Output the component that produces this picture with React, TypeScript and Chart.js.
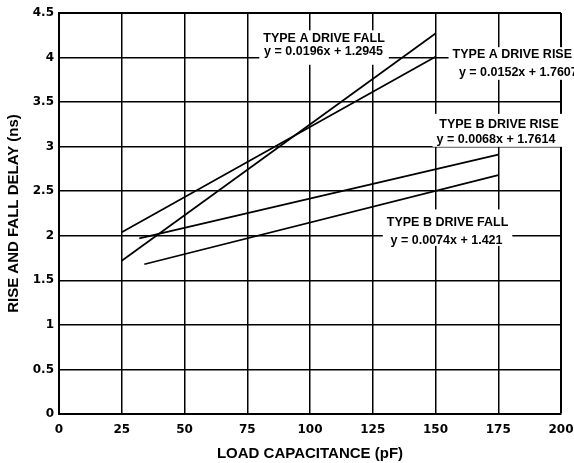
import React, { useEffect, useRef } from 'react';
import { Chart, registerables } from 'chart.js';

Chart.register(...registerables);

// ---- data ----
const typeAFallX = [25, 150];
const typeAFallY = [1.72, 4.27];
const typeARiseX = [25, 150];
const typeARiseY = [2.04, 4.01];
const typeBRiseX = [32, 175];
const typeBRiseY = [1.97, 2.91];
const typeBFallX = [34, 175];
const typeBFallY = [1.68, 2.68];

const xMin = 0;
const xMax = 200;
const xStep = 25;
const yMin = 0;
const yMax = 4.5;
const yStep = 0.5;

const xTitle = 'LOAD CAPACITANCE (pF)';
const yTitle = 'RISE AND FALL DELAY (ns)';

const labelAFall = ['TYPE A DRIVE FALL', 'y = 0.0196x + 1.2945'];
const labelARise = ['TYPE A DRIVE RISE', 'y = 0.0152x + 1.7607'];
const labelBRise = ['TYPE B DRIVE RISE', 'y = 0.0068x + 1.7614'];
const labelBFall = ['TYPE B DRIVE FALL', 'y = 0.0074x + 1.421'];

// label placement (data coordinates of each text line's centre/baseline)
const annotations = [
  { lines: labelAFall, xs: [105.6, 105.4], ys: [4.171, 4.031], padTop: 12, padBottom: 10 },
  { lines: labelARise, xs: [180.6, 183.0], ys: [3.993, 3.795], padTop: 11, padBottom: 4 },
  { lines: labelBRise, xs: [175.3, 174.1], ys: [3.211, 3.043], padTop: 14, padBottom: 4 },
  { lines: labelBFall, xs: [154.8, 154.4], ys: [2.105, 1.909], padTop: 17, padBottom: 2 },
];

const toPoints = (xs: number[], ys: number[]) => xs.map((x, i) => ({ x, y: ys[i] }));

const labelPlugin = {
  id: 'eqLabels',
  afterDatasetsDraw(chart: any) {
    const { ctx } = chart;
    const xs = chart.scales.x;
    const ys = chart.scales.y;
    ctx.save();
    ctx.font = 'bold 12.5px "Liberation Sans", Arial, sans-serif';
    ctx.textAlign = 'center';
    ctx.textBaseline = 'alphabetic';
    for (const a of annotations) {
      const pts = a.lines.map((t, i) => ({
        t,
        px: xs.getPixelForValue(a.xs[i]),
        py: ys.getPixelForValue(a.ys[i]),
        w: ctx.measureText(t).width,
      }));
      const left = Math.min(...pts.map((p) => p.px - p.w / 2)) - 4;
      const right = Math.max(...pts.map((p) => p.px + p.w / 2)) + 4;
      const top = pts[0].py - a.padTop;
      const bottom = pts[pts.length - 1].py + a.padBottom;
      ctx.fillStyle = '#ffffff';
      ctx.fillRect(left, top, right - left, bottom - top);
      ctx.fillStyle = '#000000';
      pts.forEach((p) => ctx.fillText(p.t, p.px, p.py));
    }
    ctx.restore();
  },
};

export default function App() {
  const canvasRef = useRef<HTMLCanvasElement | null>(null);

  useEffect(() => {
    document.body.style.margin = '0';
    const canvas = canvasRef.current;
    if (!canvas) return;
    const lineStyle = {
      showLine: true,
      borderColor: '#000000',
      borderWidth: 1.7,
      pointRadius: 0,
      pointHoverRadius: 0,
      fill: false,
    };
    const tickFont = { family: '"DejaVu Sans", sans-serif', weight: 'bold' as const, size: 12 };
    const titleFont = { family: '"Liberation Sans", Arial, sans-serif', weight: 'bold' as const, size: 15 };
    const chart = new Chart(canvas, {
      type: 'scatter',
      data: {
        datasets: [
          { label: 'Type A Drive Fall', data: toPoints(typeAFallX, typeAFallY), ...lineStyle },
          { label: 'Type A Drive Rise', data: toPoints(typeARiseX, typeARiseY), ...lineStyle },
          { label: 'Type B Drive Rise', data: toPoints(typeBRiseX, typeBRiseY), ...lineStyle },
          { label: 'Type B Drive Fall', data: toPoints(typeBFallX, typeBFallY), ...lineStyle },
        ],
      },
      options: {
        animation: false,
        responsive: false,
        devicePixelRatio: 1,
        layout: { padding: { top: 13, right: 13, left: 0, bottom: 0 } },
        plugins: {
          legend: { display: false },
          tooltip: { enabled: false },
        },
        scales: {
          x: {
            type: 'linear',
            min: xMin,
            max: xMax,
            ticks: { stepSize: xStep, color: '#000', font: tickFont, padding: 9, maxRotation: 0 },
            grid: {
              color: '#000',
              lineWidth: (c: any) => (c.tick && c.tick.value === xMax ? 2 : 1.5),
              drawTicks: false,
            },
            border: { color: '#000', width: 2 },
            title: { display: true, text: xTitle, color: '#000', font: titleFont, padding: { top: 0, bottom: 0 } },
            afterFit: (s: any) => {
              s.height = 49;
              s.paddingLeft = 0;
              s.paddingRight = 0;
            },
          },
          y: {
            type: 'linear',
            min: yMin,
            max: yMax,
            ticks: {
              stepSize: yStep,
              color: '#000',
              font: tickFont,
              padding: 5,
              callback: (v: any) => String(Number(v)),
            },
            grid: {
              color: '#000',
              lineWidth: (c: any) => (c.tick && c.tick.value === yMax ? 2 : 1.5),
              drawTicks: false,
            },
            border: { color: '#000', width: 2 },
            title: { display: true, text: yTitle, color: '#000', font: titleFont, padding: { top: 5, bottom: 0 } },
            afterFit: (s: any) => {
              s.width = 59;
              s.paddingTop = 0;
              s.paddingBottom = 0;
            },
          },
        },
      },
      plugins: [labelPlugin],
    } as any);
    return () => chart.destroy();
  }, []);

  return (
    <div style={{ position: 'absolute', left: 0, top: 0, width: 574, height: 463 }}>
      <canvas ref={canvasRef} width={574} height={463} style={{ display: 'block' }} />
    </div>
  );
}
